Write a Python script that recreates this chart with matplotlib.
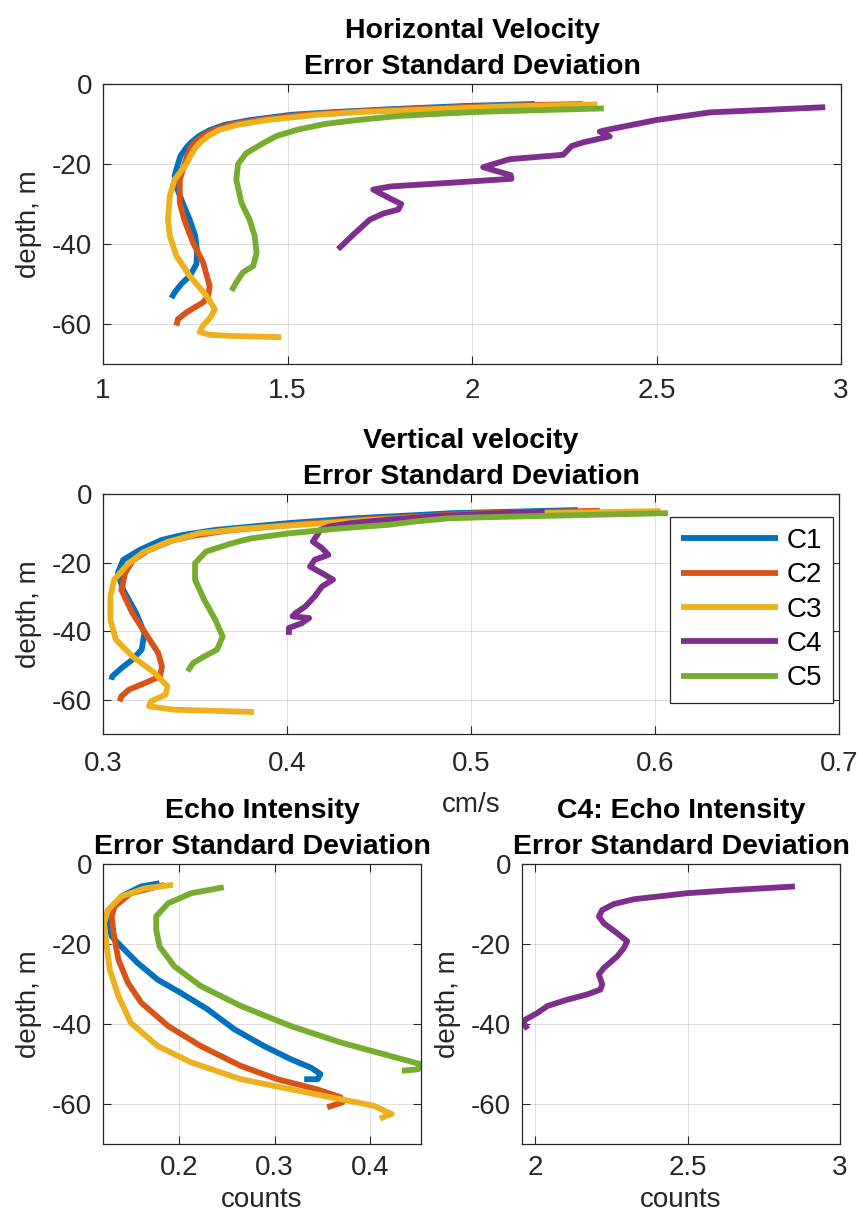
import matplotlib
matplotlib.use("Agg")
import matplotlib.pyplot as plt

plt.rcParams["font.family"] = ["Liberation Sans", "DejaVu Sans"]
plt.rcParams["axes.unicode_minus"] = False

# MATLAB default line colours
colors = {"C1": "#0072BD", "C2": "#D95319", "C3": "#EDB120", "C4": "#7E2F8E", "C5": "#77AC30"}
names = ["C1", "C2", "C3", "C4", "C5"]

# ---- horizontal velocity error std (cm/s) vs depth (m)
hv_c1_depth = [-5.0, -5.5, -6.3, -7.0, -7.7, -9, -10.2, -11.5, -13, -14.5, -16, -18, -20, -23, -26, -30, -34, -38, -42, -45, -48, -50, -52, -53.5]
hv_c1 = [2.17, 1.98, 1.78, 1.63, 1.51, 1.40, 1.33, 1.29, 1.26, 1.24, 1.225, 1.21, 1.203, 1.194, 1.20, 1.217, 1.235, 1.25, 1.255, 1.253, 1.235, 1.212, 1.195, 1.185]
hv_c2_depth = [-5.0, -5.5, -6.3, -7.0, -7.7, -9, -10.2, -11.5, -13, -14.5, -16, -18, -20, -23.9, -29.7, -33.9, -39.7, -44.6, -50.5, -52.9, -54.6, -57.1, -58.8, -60.4]
hv_c2 = [2.30, 2.05, 1.82, 1.66, 1.54, 1.42, 1.345, 1.30, 1.27, 1.25, 1.237, 1.228, 1.221, 1.208, 1.208, 1.22, 1.244, 1.271, 1.289, 1.285, 1.271, 1.226, 1.203, 1.199]
hv_c3_depth = [-5.1, -5.6, -6.4, -7.0, -7.7, -9, -10.2, -11.5, -13, -14.5, -16, -18, -20, -23.9, -28, -33.9, -38, -43, -48, -52.9, -56.3, -58.5, -60.5, -62.0, -62.7, -63.0, -63.3]
hv_c3 = [2.34, 2.10, 1.87, 1.70, 1.58, 1.445, 1.365, 1.315, 1.285, 1.265, 1.25, 1.237, 1.226, 1.194, 1.181, 1.176, 1.181, 1.199, 1.235, 1.28, 1.303, 1.29, 1.27, 1.262, 1.29, 1.35, 1.483]
hv_c4_depth = [-5.8, -7.1, -9.0, -11.5, -11.9, -13.1, -14.6, -15.5, -17.7, -18.8, -20.8, -22.8, -23.7, -24.7, -25.6, -26.4, -28.5, -30.0, -31.4, -32.4, -33.9, -37.5, -41.3]
hv_c4 = [2.957, 2.645, 2.50, 2.364, 2.346, 2.373, 2.301, 2.27, 2.247, 2.102, 2.03, 2.105, 2.107, 1.94, 1.78, 1.732, 1.775, 1.808, 1.80, 1.759, 1.723, 1.68, 1.637]
hv_c5_depth = [-6.1, -6.9, -7.3, -8, -9, -10, -11.5, -13, -14.8, -17.3, -20, -23.9, -29.7, -33.9, -38, -42.2, -45.5, -47.1, -49.6, -51.7]
hv_c5 = [2.357, 2.04, 1.94, 1.80, 1.69, 1.60, 1.524, 1.47, 1.434, 1.388, 1.366, 1.361, 1.375, 1.397, 1.411, 1.416, 1.407, 1.379, 1.361, 1.348]

# ---- vertical velocity error std (cm/s)
vv_c1_depth = [-4.7, -5.6, -6.1, -7.1, -8.5, -10.5, -12.0, -13.4, -16.3, -19.2, -23.1, -28, -34.8, -40.6, -45.4, -48.3, -50.8, -53.2, -54.2]
vv_c1 = [0.558, 0.49, 0.473, 0.437, 0.401, 0.361, 0.343, 0.332, 0.320, 0.311, 0.308, 0.311, 0.318, 0.3225, 0.321, 0.316, 0.31, 0.305, 0.3045]
vv_c2_depth = [-4.9, -5.7, -6.4, -7.4, -8.8, -10.8, -12.3, -13.7, -16.6, -19.5, -23.1, -28, -34.8, -40.6, -46.4, -50.3, -53.2, -55.1, -57.1, -59, -60.5]
vv_c2 = [0.57, 0.50, 0.478, 0.442, 0.405, 0.366, 0.348, 0.337, 0.324, 0.316, 0.312, 0.31, 0.316, 0.323, 0.33, 0.332, 0.331, 0.323, 0.314, 0.31, 0.309]
vv_c3_depth = [-5.0, -5.8, -6.5, -7.5, -8.9, -10.2, -11.5, -14.0, -17.0, -20.2, -25, -29.9, -36.7, -42.5, -47.4, -52.2, -56.1, -58.5, -60.5, -61.9, -62.9, -63.6]
vv_c3 = [0.603, 0.52, 0.485, 0.448, 0.41, 0.375, 0.352, 0.335, 0.322, 0.314, 0.306, 0.304, 0.304, 0.307, 0.316, 0.328, 0.335, 0.334, 0.326, 0.325, 0.338, 0.382]
vv_c4_depth = [-5.2, -5.8, -6.5, -7.5, -8.5, -9.5, -10.5, -11.5, -13.9, -15.8, -17.8, -19.2, -21.2, -23.1, -25, -27, -29.9, -32.8, -34.8, -35.7, -36.2, -37.7, -39.1, -41.1]
vv_c4 = [0.54, 0.51, 0.48, 0.455, 0.435, 0.423, 0.418, 0.417, 0.414, 0.419, 0.4225, 0.415, 0.4125, 0.419, 0.425, 0.419, 0.415, 0.41, 0.4045, 0.403, 0.412, 0.408, 0.401, 0.401]
vv_c5_depth = [-5.6, -6.8, -7.1, -8, -9, -10, -11.5, -13, -14.4, -16.8, -20.2, -25, -30.9, -36.7, -41.6, -45.4, -47.4, -49.3, -51.7]
vv_c5 = [0.607, 0.507, 0.488, 0.47, 0.455, 0.43, 0.401, 0.38, 0.37, 0.356, 0.35, 0.35, 0.355, 0.361, 0.365, 0.362, 0.355, 0.349, 0.346]

# ---- echo intensity error std (counts)
ei_c1_depth = [-4.8, -5.6, -8.1, -11.5, -14.8, -18.1, -20.6, -24.7, -28.9, -32.2, -36.3, -41.3, -45.5, -48.8, -50.9, -52.5, -53.8, -53.8]
ei_c1 = [0.18, 0.161, 0.14, 0.13, 0.1265, 0.13, 0.14, 0.157, 0.178, 0.202, 0.23, 0.258, 0.289, 0.317, 0.338, 0.348, 0.345, 0.331]
ei_c2_depth = [-5.2, -7.3, -10.6, -13.1, -17.3, -23.9, -29.7, -34.7, -40.5, -45.5, -50.5, -53.8, -56.3, -58.3, -59.6, -60.8]
ei_c2 = [0.185, 0.15, 0.133, 0.13, 0.132, 0.137, 0.147, 0.161, 0.189, 0.223, 0.265, 0.303, 0.344, 0.369, 0.371, 0.355]
ei_c3_depth = [-5.2, -6.1, -8.1, -11.5, -14.8, -19.8, -26.4, -33, -39.7, -45.5, -49.6, -53.8, -56.3, -58.8, -60.4, -62.5, -62.9, -63.7]
ei_c3 = [0.194, 0.164, 0.14, 0.126, 0.122, 0.1245, 0.128, 0.137, 0.15, 0.178, 0.213, 0.265, 0.317, 0.369, 0.403, 0.4225, 0.417, 0.41]
ei_c5_depth = [-5.8, -7.3, -9.8, -13.1, -16.4, -20.6, -25.6, -30.5, -35.5, -40.5, -44.6, -48, -50, -51.3, -51.7]
ei_c5 = [0.247, 0.213, 0.189, 0.1765, 0.1765, 0.18, 0.1955, 0.223, 0.265, 0.317, 0.369, 0.421, 0.452, 0.45, 0.433]

# C4 echo intensity (own panel, different scale)
ei_c4_depth = [-5.6, -6.5, -7.3, -8.8, -10, -11.5, -13.1, -14.8, -17.3, -19.3, -21, -23.1, -26, -27.6, -30.1, -31.4, -32.6, -33.9, -35.5, -37.2, -39.3, -41.3]
ei_c4 = [2.852, 2.65, 2.498, 2.324, 2.258, 2.22, 2.209, 2.225, 2.269, 2.302, 2.291, 2.269, 2.225, 2.209, 2.22, 2.214, 2.171, 2.106, 2.04, 2.008, 1.959, 1.975]

depth_ticks = [-60, -40, -20, 0]

FS = 20
LW = 4.2
EDGE = "#262626"


def style_axes(ax, xlim, xticks, xticklabels, title, xpad):
    ax.set_ylim(-70, 0)
    ax.set_xlim(*xlim)
    ax.set_yticks(depth_ticks)
    ax.set_yticklabels([str(t) for t in depth_ticks])
    ax.set_xticks(xticks)
    ax.set_xticklabels(xticklabels)
    ax.tick_params(direction="in", length=5.5, width=0.8, colors=EDGE,
                   labelsize=FS, labelcolor="#262626", top=True, right=True, pad=8)
    ax.tick_params(axis="x", pad=xpad)
    for sp in ax.spines.values():
        sp.set_color(EDGE)
        sp.set_linewidth(0.9)
    ax.grid(True, color=EDGE, alpha=0.15, linewidth=0.7)
    ax.set_axisbelow(True)
    ax.set_title(title, fontsize=20.5, fontweight="bold", pad=7, linespacing=1.5)
    ax.set_ylabel("depth, m", fontsize=FS, color="#262626", labelpad=7)


fig = plt.figure(figsize=(8.63, 12.19), dpi=100)

# horizontal velocity panel
ax1 = fig.add_axes([0.1194, 0.7014, 0.8552, 0.2297])
hv = [(hv_c1, hv_c1_depth), (hv_c2, hv_c2_depth), (hv_c3, hv_c3_depth), (hv_c4, hv_c4_depth), (hv_c5, hv_c5_depth)]
for name, (x, d) in zip(names, hv):
    ax1.plot(x, d, color=colors[name], lw=LW, solid_capstyle="butt")
style_axes(ax1, (1, 3), [1, 1.5, 2, 2.5, 3], ["1", "1.5", "2", "2.5", "3"],
           "Horizontal Velocity\nError Standard Deviation", 10)

# vertical velocity panel
ax2 = fig.add_axes([0.1194, 0.3979, 0.8528, 0.1969])
vv = [(vv_c1, vv_c1_depth), (vv_c2, vv_c2_depth), (vv_c3, vv_c3_depth), (vv_c4, vv_c4_depth), (vv_c5, vv_c5_depth)]
for name, (x, d) in zip(names, vv):
    ax2.plot(x, d, color=colors[name], lw=LW, label=name, solid_capstyle="butt")
style_axes(ax2, (0.3, 0.7), [0.3, 0.4, 0.5, 0.6, 0.7], ["0.3", "0.4", "0.5", "0.6", "0.7"],
           "Vertical velocity\nError Standard Deviation", 12)
ax2.set_xlabel("cm/s", fontsize=FS, color="#262626", labelpad=11)
leg = ax2.legend(loc="upper right", bbox_to_anchor=(0.992, 0.904), borderaxespad=0,
                 fontsize=FS, handlelength=3.5, handletextpad=0.3, labelspacing=0.3,
                 borderpad=0.4, fancybox=False, framealpha=1)
leg.get_frame().set_edgecolor(EDGE)
leg.get_frame().set_linewidth(0.9)

# echo intensity panel (C1, C2, C3, C5)
ax3 = fig.add_axes([0.1194, 0.0615, 0.3685, 0.2297])
ei = [("C1", ei_c1, ei_c1_depth), ("C2", ei_c2, ei_c2_depth), ("C3", ei_c3, ei_c3_depth), ("C5", ei_c5, ei_c5_depth)]
for name, x, d in ei:
    ax3.plot(x, d, color=colors[name], lw=LW, solid_capstyle="butt")
style_axes(ax3, (0.121, 0.453), [0.2, 0.3, 0.4], ["0.2", "0.3", "0.4"],
           "Echo Intensity\nError Standard Deviation", 8)
ax3.set_xlabel("counts", fontsize=FS, color="#262626", labelpad=4)

# C4 echo intensity panel
ax4 = fig.add_axes([0.6049, 0.0615, 0.3685, 0.2297])
ax4.plot(ei_c4, ei_c4_depth, color=colors["C4"], lw=LW, solid_capstyle="butt")
style_axes(ax4, (1.957, 3.0), [2, 2.5, 3], ["2", "2.5", "3"],
           "C4: Echo Intensity\nError Standard Deviation", 8)
ax4.set_xlabel("counts", fontsize=FS, color="#262626", labelpad=4)

fig.savefig("out.png", dpi=100)
